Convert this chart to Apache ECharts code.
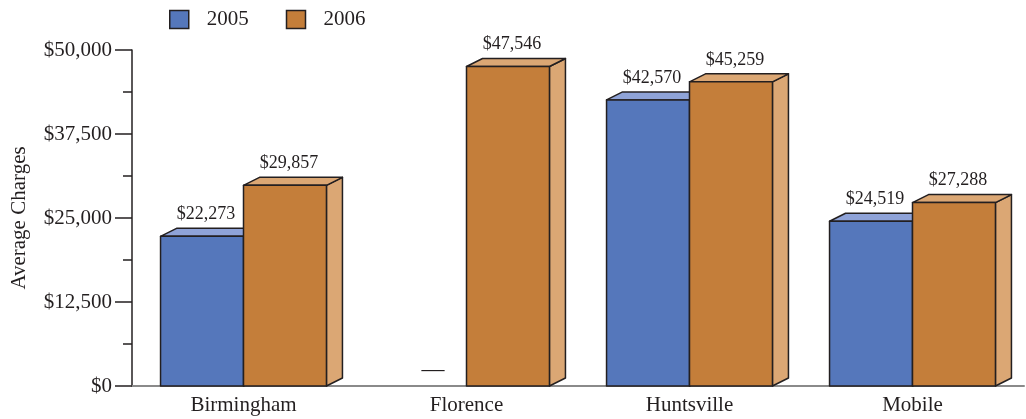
<!DOCTYPE html>
<html>
<head>
<meta charset="utf-8">
<script src="https://cdn.jsdelivr.net/npm/echarts@6/dist/echarts.min.js"></script>
<style>
  html, body { margin: 0; padding: 0; background: #fff; }
  #chart { width: 1026px; height: 419px; }
</style>
</head>
<body>
<div id="chart"></div>
<script>
const categories = ['Birmingham', 'Florence', 'Huntsville', 'Mobile'];
const seriesNames = ['2005', '2006'];
const values2005 = [22273, null, 42570, 24519];
const values2006 = [29857, 47546, 45259, 27288];
const yTicks = [0, 12500, 25000, 37500, 50000];

const FONT = '"Liberation Serif", "Times New Roman", serif';
const INK = '#231f20';
const colors = [
    { front: '#5577bb', top: '#8fa3d8', side: '#8fa3d8' },
    { front: '#c47e3a', top: '#dba774', side: '#dba774' },
];

const fmt = (v) => '$' + v.toLocaleString('en-US');

// build [index, value, missing] rows for the custom series
const toRows = (arr) => arr.map((v, i) => [i, v == null ? 0 : v, v == null ? 1 : 0]);

const makeRender = (slot, c) => (params, api) => {
    const idx = api.value(0);
    const val = api.value(1);
    const missing = api.value(2);
    const base = api.coord([idx, 0]);
    const top = api.coord([idx, val]);
    const band = api.size([1, 0])[0];
    const w = band * 0.372;
    const x0 = slot === 0 ? base[0] - w : base[0];
    const dx = 16, dy = 8;
    const stroke = { stroke: INK, lineWidth: 1.5, lineJoin: 'round' };
    if (missing) {
        return {
            type: 'text',
            style: {
                x: x0 + w / 2 + 8, y: base[1] - 16,
                text: '—', align: 'center', verticalAlign: 'middle',
                font: '23px ' + FONT, fill: INK,
            },
        };
    }
    const yt = top[1], yb = base[1];
    return {
        type: 'group',
        children: [
            {
                type: 'polygon',
                shape: { points: [[x0 + w, yt], [x0 + w + dx, yt - dy], [x0 + w + dx, yb - dy], [x0 + w, yb]] },
                style: Object.assign({ fill: c.side }, stroke),
            },
            {
                type: 'polygon',
                shape: { points: [[x0, yt], [x0 + dx, yt - dy], [x0 + w + dx, yt - dy], [x0 + w, yt]] },
                style: Object.assign({ fill: c.top }, stroke),
            },
            {
                type: 'rect',
                shape: { x: x0, y: yt, width: w, height: yb - yt },
                style: Object.assign({ fill: c.front }, stroke),
            },
            {
                type: 'text',
                style: {
                    x: x0 + w / 2 + 4, y: yt - dy - 5,
                    text: fmt(val), align: 'center', verticalAlign: 'bottom',
                    font: '18px ' + FONT, fill: INK,
                },
            },
        ],
    };
};

const chart = echarts.init(document.getElementById('chart'));
chart.setOption({
    animation: false,
    textStyle: { fontFamily: FONT, color: INK },
    grid: { left: 132, right: 2, top: 50, bottom: 33 },
    legend: {
        top: 4,
        left: 164,
        itemWidth: 19,
        itemHeight: 18,
        itemGap: 37,
        icon: 'rect',
        textStyle: { fontSize: 21, color: INK, fontFamily: FONT, padding: [0, 0, 0, 13] },
        data: seriesNames.map((n, i) => ({
            name: n,
            itemStyle: { color: colors[i].front, borderColor: INK, borderWidth: 1.5 },
        })),
    },
    xAxis: {
        type: 'category',
        data: categories,
        axisLine: { lineStyle: { color: '#8a8a8a', width: 2 } },
        axisTick: { show: false },
        axisLabel: { fontSize: 21, color: INK, fontFamily: FONT, margin: 9 },
    },
    yAxis: {
        type: 'value',
        min: yTicks[0],
        max: yTicks[yTicks.length - 1],
        interval: yTicks[1] - yTicks[0],
        name: 'Average Charges',
        nameLocation: 'middle',
        nameGap: 102,
        nameTextStyle: { fontSize: 21, color: INK, fontFamily: FONT },
        axisLine: { show: true, lineStyle: { color: INK, width: 1.5 } },
        axisTick: { show: true, length: 17, lineStyle: { color: INK, width: 1.5 } },
        minorTick: { show: true, splitNumber: 2, length: 9, lineStyle: { color: INK, width: 1.5 } },
        splitLine: { show: false },
        axisLabel: { fontSize: 21, color: INK, fontFamily: FONT, margin: 20, formatter: fmt },
    },
    series: [
        {
            name: seriesNames[0],
            type: 'custom',
            clip: false,
            itemStyle: { color: colors[0].front },
            data: toRows(values2005),
            encode: { x: 0, y: 1 },
            renderItem: makeRender(0, colors[0]),
        },
        {
            name: seriesNames[1],
            type: 'custom',
            clip: false,
            itemStyle: { color: colors[1].front },
            data: toRows(values2006),
            encode: { x: 0, y: 1 },
            renderItem: makeRender(1, colors[1]),
        },
    ],
});
</script>
</body>
</html>
